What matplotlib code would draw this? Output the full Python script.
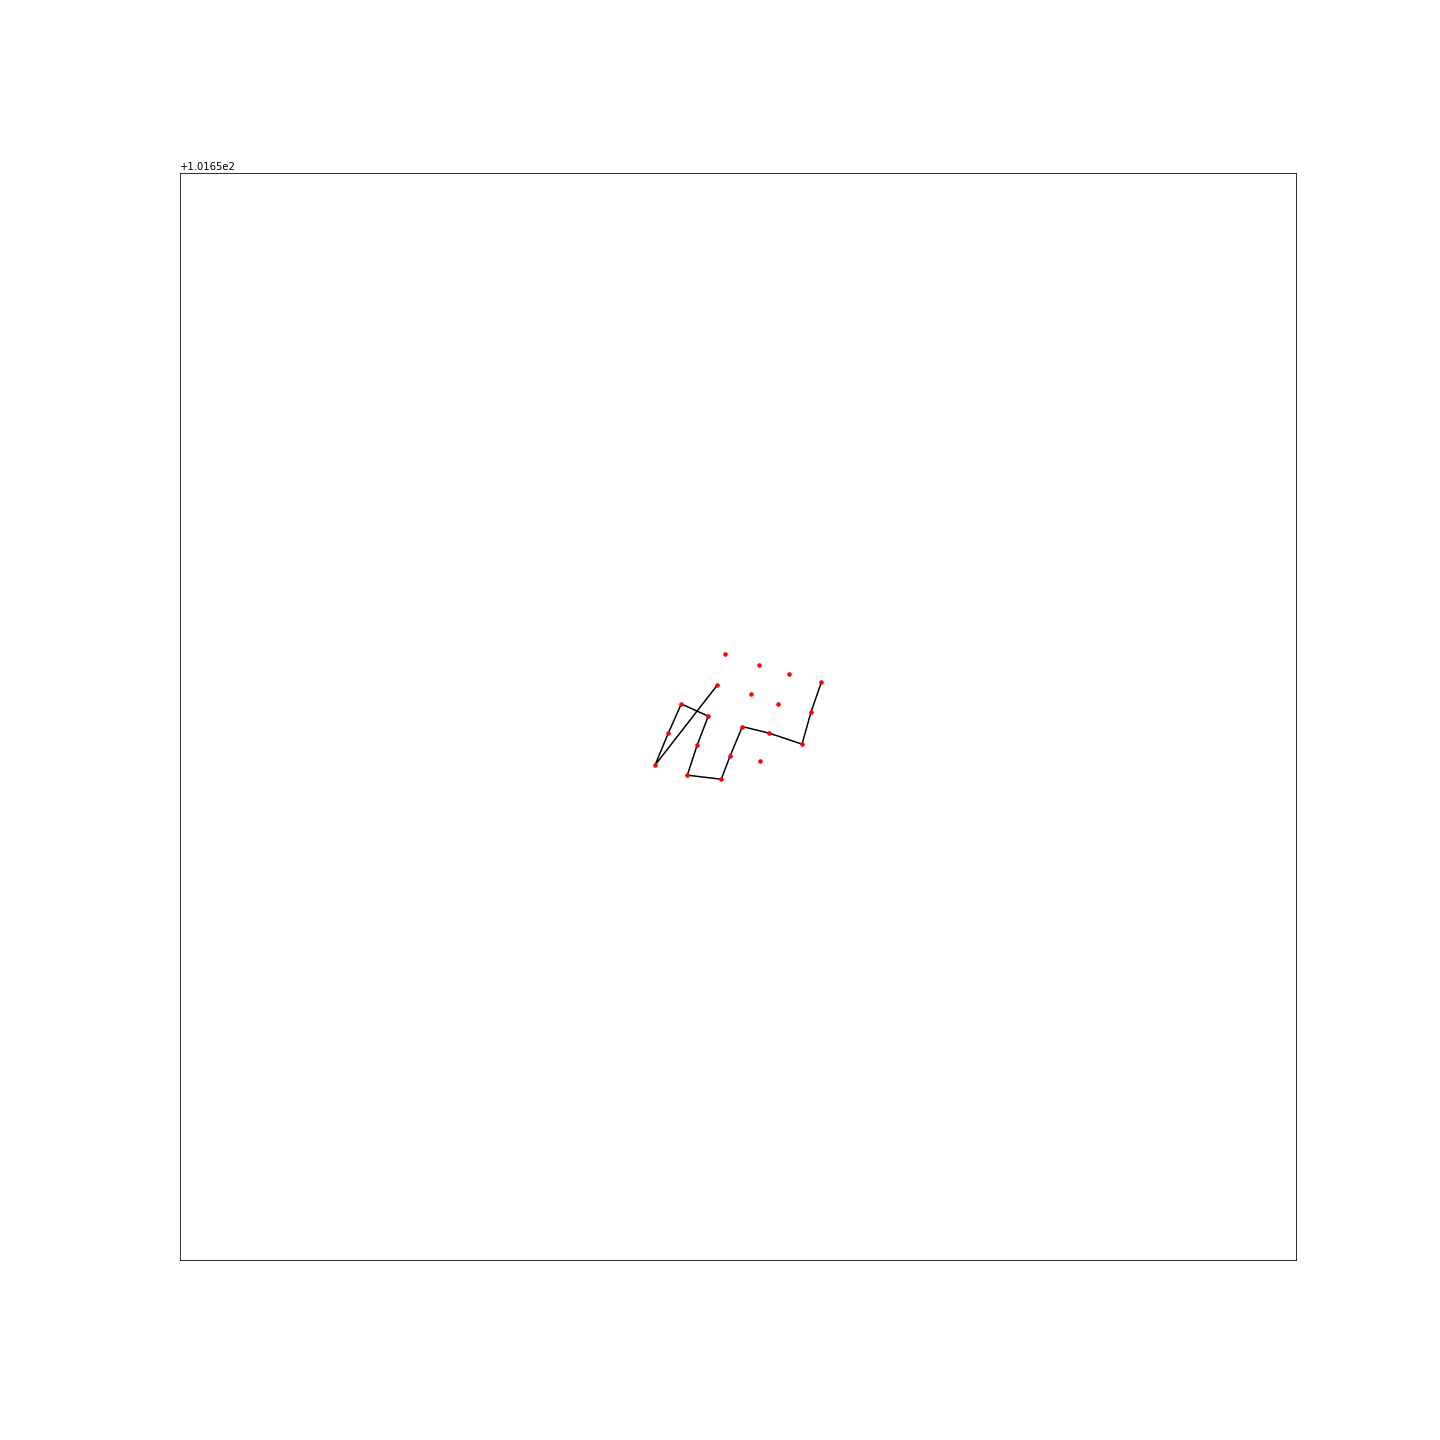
import matplotlib
matplotlib.use("Agg")
import matplotlib.pyplot as plt
from matplotlib.ticker import ScalarFormatter

# Point coordinates (x = latitude-like, y = longitude-like)
point_x = [3.134789, 3.135087, 3.135351, 3.135632, 3.134718, 3.135017, 3.135254,
           3.134402, 3.134639, 3.135541, 3.134938, 3.135175, 3.134288, 3.134543,
           3.135462, 3.134830, 3.135096, 3.134171, 3.134455, 3.134753]
point_y = [101.655549, 101.655452, 101.655373, 101.655302, 101.655276, 101.655196,
           101.655108, 101.655110, 101.655002, 101.655037, 101.654910, 101.654852,
           101.654852, 101.654751, 101.654755, 101.654649, 101.654604, 101.654569,
           101.654481, 101.654445]

# Route through the points (indices into the point arrays)
route = [4, 17, 12, 7, 8, 13, 18, 19, 15, 10, 11, 14, 9, 3]

x_limits = [3.1300, 3.1398]
y_limits = [101.6502, 101.6598]


class OffsetOnlyFormatter(ScalarFormatter):
    """Keeps the offset text but hides the tick labels."""
    def __call__(self, x, pos=None):
        return ""


fig = plt.figure(figsize=(20, 20), dpi=72)
ax = fig.add_axes([0.125, 0.125, 0.775, 0.755])

route_x = [point_x[i] for i in route]
route_y = [point_y[i] for i in route]
ax.plot(route_x, route_y, color="black", linewidth=1.5)
ax.plot(point_x, point_y, "r.", linestyle="none", markersize=7)

ax.set_xlim(x_limits)
ax.set_ylim(y_limits)
ax.xaxis.set_major_formatter(OffsetOnlyFormatter())
ax.yaxis.set_major_formatter(OffsetOnlyFormatter())
ax.tick_params(left=False, bottom=False)

fig.savefig("out.png", dpi=72)
